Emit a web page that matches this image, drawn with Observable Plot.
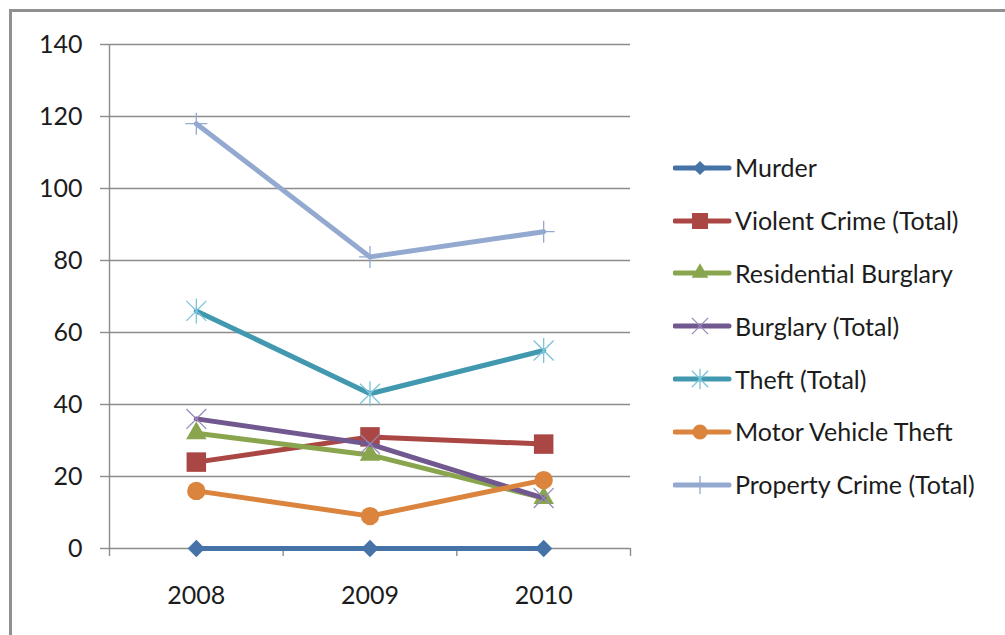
<!DOCTYPE html>
<html>
<head>
<meta charset="utf-8">
<script src="https://cdn.jsdelivr.net/npm/d3@7"></script>
<script src="https://cdn.jsdelivr.net/npm/@observablehq/plot@0.6"></script>
<style>
html, body { margin: 0; padding: 0; background: #fff; overflow: hidden; }
#wrap { position: relative; width: 1005px; height: 635px; overflow: hidden; font-family: Lato, sans-serif; background: #fff; }
#frame { position: absolute; left: 9px; top: 9px; width: 1200px; height: 800px; border: 3px solid #909090; box-sizing: border-box; pointer-events: none; }
#legend { position: absolute; left: 673px; top: 141.5px; }
.row { height: 52.8px; display: flex; align-items: center; }
.row svg { display: block; }
.row span { margin-left: 2px; font-size: 25px; color: #1c1c1c; white-space: nowrap; line-height: 1; }
</style>
</head>
<body>
<div id="wrap"><div id="chart"></div><div id="legend"></div><div id="frame"></div></div>
<script>
// ---- data ----
const years = [2008, 2009, 2010];
const murder = [0, 0, 0];
const violentCrime = [24, 31, 29];
const residentialBurglary = [32, 26, 14];
const burglaryTotal = [36, 29, 14];
const theftTotal = [66, 43, 55];
const motorVehicleTheft = [16, 9, 19];
const propertyCrime = [118, 81, 88];
const seriesNames = ["Murder", "Violent Crime (Total)", "Residential Burglary", "Burglary (Total)", "Theft (Total)", "Motor Vehicle Theft", "Property Crime (Total)"];
const seriesValues = [murder, violentCrime, residentialBurglary, burglaryTotal, theftTotal, motorVehicleTheft, propertyCrime];
const yTicks = [0, 20, 40, 60, 80, 100, 120, 140];

// ---- styles ----
const symTimes = {draw(c, s) { const h = Math.sqrt(s / Math.PI) * 0.71; c.moveTo(-h, -h); c.lineTo(h, h); c.moveTo(-h, h); c.lineTo(h, -h); }};
const symAster = {draw(c, s) { const r = Math.sqrt(s / Math.PI); const h = r * 0.8; c.moveTo(-h, -h); c.lineTo(h, h); c.moveTo(-h, h); c.lineTo(h, -h); c.moveTo(0, -r); c.lineTo(0, r); }};
const symPlus = {draw(c, s) { const r = Math.sqrt(s / Math.PI); c.moveTo(-r, 0); c.lineTo(r, 0); c.moveTo(0, -r); c.lineTo(0, r); }};
const styles = [
  {color: "#4572A7", symbol: "diamond2", r: 7.8, filled: true, mcolor: "#4572A7"},
  {color: "#AA4643", symbol: "square", r: 11, filled: true, mcolor: "#AA4643"},
  {color: "#89A54E", symbol: "triangle", r: 7.6, filled: true, mcolor: "#89A54E"},
  {color: "#71588F", symbol: symTimes, r: 14, filled: false, mcolor: "#9a89b8"},
  {color: "#4198AF", symbol: symAster, r: 12.5, filled: false, mcolor: "#7cc4d9"},
  {color: "#DB843D", symbol: "circle", r: 9.2, filled: true, mcolor: "#DB843D"},
  {color: "#93A9CF", symbol: symPlus, r: 11, filled: false, mcolor: "#93A9CF"}
];

const rows = seriesNames.flatMap((name, k) => years.map((year, i) => ({series: name, year, value: seriesValues[k][i]})));
const xDomain = [years[0] - 0.5, years[years.length - 1] + 0.5];
const boundaries = d3.range(xDomain[0], xDomain[1] + 0.01, 1);
const gray = "#8c8c8c";

const seriesMarks = seriesNames.flatMap((name, k) => {
  const st = styles[k];
  const data = rows.filter(d => d.series === name);
  return [
    Plot.line(data, {x: "year", y: "value", stroke: st.color, strokeWidth: 5, strokeLinecap: "round", strokeLinejoin: "round"}),
    Plot.dot(data, st.filled
      ? {x: "year", y: "value", symbol: () => st.symbol, r: st.r, fill: st.mcolor, stroke: "none"}
      : {x: "year", y: "value", symbol: () => st.symbol, r: st.r, fill: "none", stroke: st.mcolor, strokeWidth: 1.3})
  ];
});

const chart = Plot.plot({
  width: 1005,
  height: 635,
  marginLeft: 109,
  marginRight: 375,
  marginTop: 44,
  marginBottom: 87,
  style: {fontFamily: "Lato, sans-serif", fontSize: "25px", color: "#1c1c1c", background: "transparent"},
  x: {domain: xDomain},
  y: {domain: [0, 140]},
  symbol: {type: "identity"},
  marks: [
    Plot.gridY(yTicks, {stroke: gray, strokeOpacity: 1, strokeWidth: 1.4}),
    Plot.ruleX([xDomain[0]], {y1: 0, y2: 140, stroke: gray, strokeWidth: 1.4}),
    Plot.axisY({ticks: yTicks, tickSize: 9, tickPadding: 18, stroke: gray, strokeWidth: 1.4, fill: "#1c1c1c", label: null, tickFormat: d => String(d)}),
    Plot.axisX({ticks: boundaries, tickSize: 8, tickFormat: () => "", stroke: gray, strokeWidth: 1.4, label: null}),
    Plot.axisX({ticks: years, tickSize: 0, tickPadding: 38, tickFormat: d => String(d), fill: "#1c1c1c", label: null}),
    ...seriesMarks
  ]
});
document.getElementById("chart").appendChild(chart);

// ---- legend ----
const legend = d3.select("#legend");
seriesNames.forEach((name, k) => {
  const st = styles[k];
  const row = legend.append("div").attr("class", "row");
  const svg = row.append("svg").attr("width", 60).attr("height", 30);
  svg.append("line").attr("x1", 2).attr("x2", 56).attr("y1", 15).attr("y2", 15)
    .attr("stroke", st.color).attr("stroke-width", 5).attr("stroke-linecap", "round");
  const sym = typeof st.symbol === "string" ? {diamond2: d3.symbolDiamond2, square: d3.symbolSquare, triangle: d3.symbolTriangle, circle: d3.symbolCircle}[st.symbol] : st.symbol;
  const rr = st.r * 0.82;
  svg.append("path").attr("transform", "translate(27,15)")
    .attr("d", d3.symbol(sym, rr * rr * Math.PI)())
    .attr("fill", st.filled ? st.mcolor : "none")
    .attr("stroke", st.filled ? "none" : st.mcolor)
    .attr("stroke-width", 1.3);
  row.append("span").text(name);
});
</script>
</body>
</html>
